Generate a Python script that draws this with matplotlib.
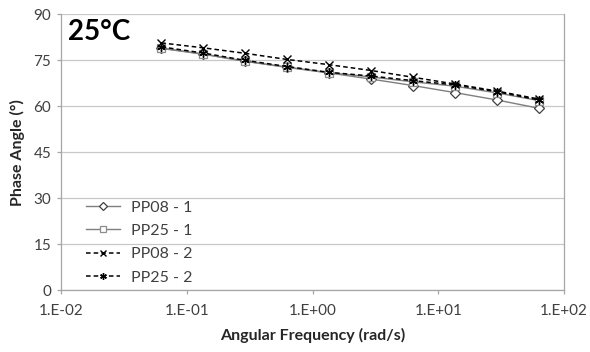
import matplotlib
matplotlib.use("Agg")
import matplotlib.pyplot as plt

plt.rcParams['font.family'] = ['Lato', 'DejaVu Sans']

freq = [0.0628, 0.135, 0.292, 0.628, 1.35, 2.92, 6.28, 13.5, 29.2, 62.8]
pp08_1 = [78.9, 77.0, 74.6, 72.6, 70.8, 68.8, 66.7, 64.4, 62.0, 59.3]
pp25_1 = [78.8, 76.9, 74.6, 72.7, 70.9, 69.5, 67.9, 66.5, 64.3, 61.8]
pp08_2 = [80.6, 79.0, 77.2, 75.2, 73.5, 71.6, 69.4, 67.2, 64.9, 62.3]
pp25_2 = [79.3, 77.3, 74.9, 72.9, 71.0, 69.8, 68.3, 66.9, 64.7, 62.0]

xticks = [0.01, 0.1, 1, 10, 100]
xticklabels = ["1.E-02", "1.E-01", "1.E+00", "1.E+01", "1.E+02"]
yticks = [0, 15, 30, 45, 60, 75, 90]

fig = plt.figure(figsize=(5.9, 3.52), dpi=100)
ax = fig.add_axes([0.1034, 0.176, 0.8526, 0.784])

ax.plot(freq, pp08_1, color='#7f7f7f', lw=1.0, marker='D', ms=5, mfc='white',
        mec='#404040', mew=0.9, label='PP08 - 1', zorder=3)
ax.plot(freq, pp25_1, color='#7f7f7f', lw=1.0, marker='s', ms=6, mfc='white',
        mec='#8c8c8c', mew=0.9, label='PP25 - 1', zorder=3)
ax.plot(freq, pp08_2, color='black', lw=1.1, ls=(0, (3, 2)), marker='x', ms=6,
        mec='black', mew=1.0, label='PP08 - 2', zorder=4)
ax.plot(freq, pp25_2, color='black', lw=1.1, ls=(0, (3, 2)), marker=(6, 2, 0), ms=6,
        mec='black', mew=1.0, label='PP25 - 2', zorder=4)

ax.set_xscale('log')
ax.set_xlim(0.01, 100)
ax.set_ylim(0, 90)
ax.set_xticks(xticks)
ax.set_xticklabels(xticklabels)
ax.xaxis.set_minor_locator(matplotlib.ticker.NullLocator())
ax.set_yticks(yticks)

ax.grid(axis='y', color='#c8c8c8', lw=0.9)
ax.set_axisbelow(True)
ax.spines['top'].set_visible(False)
for s in ['left', 'bottom', 'right']:
    ax.spines[s].set_color('#a6a6a6')
    ax.spines[s].set_linewidth(0.9)

ax.tick_params(axis='both', colors='#a6a6a6', labelcolor='#404040', labelsize=11,
               length=3, width=0.9, direction='out')
ax.tick_params(axis='x', pad=7)
ax.tick_params(axis='y', pad=4)

ax.set_xlabel('Angular Frequency (rad/s)', fontsize=11.5, fontweight='bold', color='#262626', labelpad=7)
ax.set_ylabel('Phase Angle (°)', fontsize=11.5, fontweight='bold', color='#262626', labelpad=6)

ax.text(0.014, 0.935, '25°C', transform=ax.transAxes, fontsize=20, fontweight='bold',
        color='black', va='center', ha='left')

leg = ax.legend(loc='upper left', bbox_to_anchor=(0.05, 0.325), frameon=False,
                fontsize=11.5, handlelength=2.1, labelspacing=0.58, handletextpad=0.7,
                borderpad=0, borderaxespad=0, markerscale=0.8)
for t in leg.get_texts():
    t.set_color('#404040')

fig.savefig('out.png', dpi=100)
